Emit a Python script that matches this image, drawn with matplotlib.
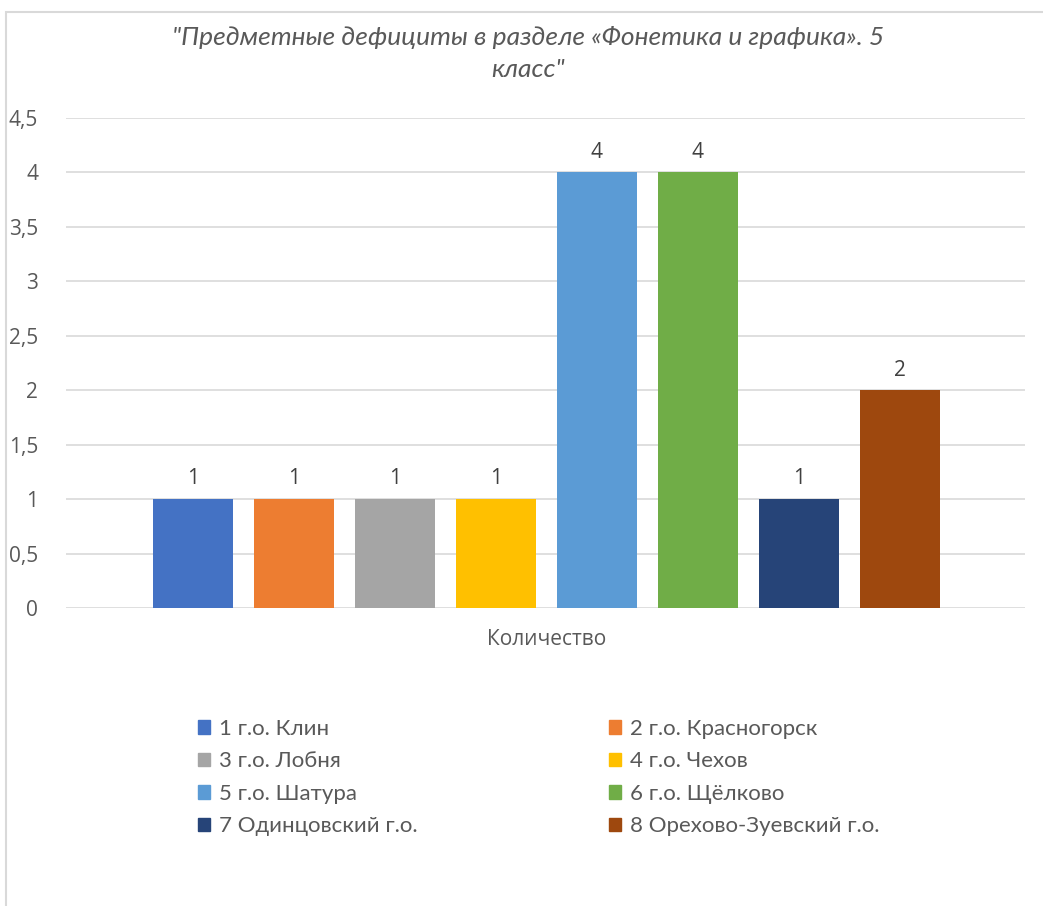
import matplotlib.pyplot as plt
from matplotlib.patches import Rectangle, Patch

# data
districts = ["1 г.о. Клин", "2 г.о. Красногорск", "3 г.о. Лобня", "4 г.о. Чехов",
             "5 г.о. Шатура", "6 г.о. Щёлково", "7 Одинцовский г.о.",
             "8 Орехово-Зуевский г.о."]
values = [1, 1, 1, 1, 4, 4, 1, 2]
colors = ["#4472C4", "#ED7D31", "#A5A5A5", "#FFC000",
          "#5B9BD5", "#70AD47", "#264478", "#9E480E"]
category = "Количество"
title = "\"Предметные дефициты в разделе «Фонетика и графика». 5\nкласс\""
yticks = [0, 0.5, 1, 1.5, 2, 2.5, 3, 3.5, 4, 4.5]

plt.rcParams['font.family'] = ['Open Sans', 'DejaVu Sans']
txt = '#595959'
grid = '#d9d9d9'

W, H = 1043, 906
fig = plt.figure(figsize=(W / 100, H / 100), dpi=100)

# chart area border
fig.patches.append(Rectangle((6 / W, -0.1), 1.2, 1 - 12 / H + 0.1,
                             transform=fig.transFigure, fill=False,
                             edgecolor=grid, linewidth=1.5))

ax = fig.add_axes([66 / W, 298 / H, 959 / W, 490 / H])
xs = list(range(len(values)))
bars = ax.bar(xs, values, width=0.79, color=colors, zorder=3)
for b, v in zip(bars, values):
    ax.annotate(str(v), (b.get_x() + b.get_width() / 2, v), xytext=(0, 7),
                textcoords='offset points', ha='center', va='bottom',
                fontsize=15, color='#404040')

ax.set_xlim(-1.257, 8.238)
ax.set_ylim(0, 4.5)
ax.set_yticks(yticks)
ax.set_yticklabels([f"{t:g}".replace('.', ',') for t in yticks])
ax.tick_params(axis='y', length=0, pad=20, labelsize=15, labelcolor=txt)
ax.set_xticks([3.5])
ax.set_xticklabels([category])
ax.tick_params(axis='x', length=0, pad=15, labelsize=15, labelcolor=txt)
ax.grid(axis='y', color=grid, linewidth=1.2, zorder=0)
for s in ax.spines.values():
    s.set_visible(False)

fig.text(528 / W, 1 - 26 / H, title, ha='center', va='top', fontsize=19,
         style='italic', color=txt, linespacing=1.45, family=['Lato', 'DejaVu Sans'])

# legend filled row by row: column 1 gets odd entries, column 2 even ones
order = list(range(0, len(districts), 2)) + list(range(1, len(districts), 2))
handles = [Patch(color=colors[i]) for i in order]
labels = [districts[i] for i in order]
fig.legend(handles, labels, ncol=2, loc='upper left',
           bbox_to_anchor=(178 / W, 1 - 699 / H), frameon=False,
           prop={'family': ['Lato', 'DejaVu Sans'], 'size': 16},
           labelcolor=txt, handlelength=0.55, handleheight=0.55,
           handletextpad=0.4, columnspacing=8.6, labelspacing=0.56)

fig.savefig('out.png', dpi=100, facecolor='white')
